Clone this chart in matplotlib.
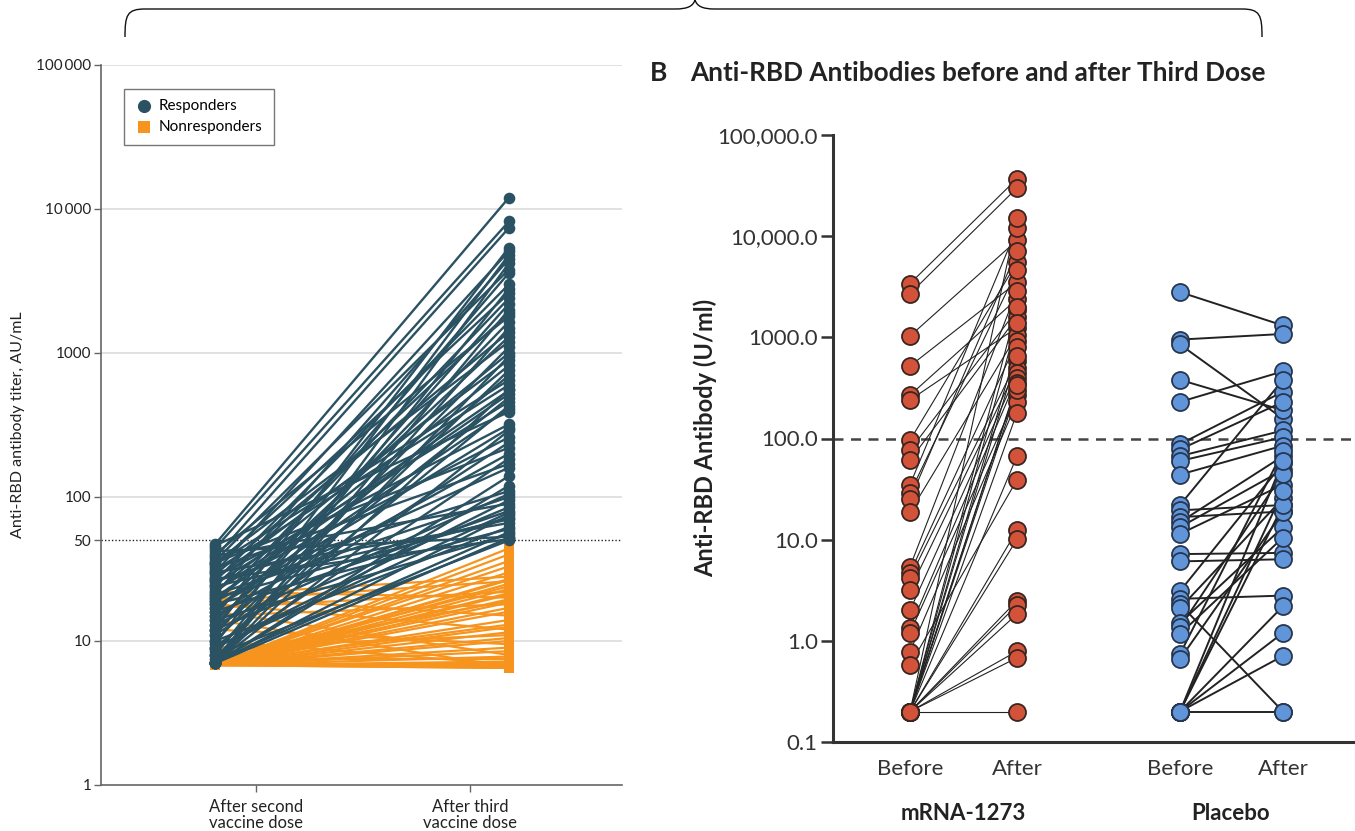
import matplotlib
matplotlib.use('Agg')
import matplotlib.pyplot as plt
from matplotlib.path import Path
from matplotlib.patches import PathPatch

# left panel: titers after 2nd and 3rd dose
resp_before = [
    47, 44, 38, 12, 30, 9.5, 21, 7, 36, 15,
    26, 8, 33, 18, 11, 7, 24, 40, 13, 7.5,
    29, 16, 35, 10, 22, 7, 27, 19, 8.5, 14,
    34, 31, 7, 20, 12, 25, 9, 17, 46, 28,
    7, 23, 11, 35, 15, 8, 32, 19, 7, 26,
    13, 21, 9, 39, 16, 7, 24, 30, 10, 18,
    7.2, 14, 42, 27, 8, 20, 12, 7, 17, 22,
    9, 7]
resp_after = [
    12000, 8200, 7400, 5400, 5100, 4800, 4500, 4200, 3800, 3600,
    3000, 2800, 2600, 2400, 2200, 2000, 1900, 1800, 1650, 1500,
    1400, 1300, 1200, 1100, 1000, 950, 900, 820, 760, 700,
    650, 600, 560, 520, 490, 460, 430, 410, 390, 320,
    290, 260, 240, 220, 200, 185, 170, 160, 120, 110,
    105, 100, 95, 90, 80, 75, 70, 66, 62, 60,
    57, 55, 53, 51, 50, 72, 85, 140, 300, 550,
    78, 52]
nonresp_before = [
    6.8, 6.8, 6.8, 7, 6.8, 21, 6.8, 19, 6.8, 7.2,
    6.8, 17, 6.8, 6.8, 22, 6.8, 8, 6.8, 15, 6.8,
    6.8, 20, 6.8, 7, 6.8, 18, 6.8, 9, 6.8, 6.8,
    12, 6.8, 6.8, 16, 6.8, 7.5, 6.8, 6.8, 10, 6.8,
    6.8, 14, 6.8, 6.8, 6.8]
nonresp_after = [
    44, 40, 36, 33, 30, 28, 27, 26, 25, 24,
    23, 22, 21.5, 21, 20, 19.5, 19, 18.5, 18, 17,
    16, 15, 14, 13, 12.5, 12, 11.5, 11, 10.5, 10,
    9.5, 9, 8.5, 8, 7.8, 7.5, 7.2, 7, 6.9, 6.8,
    6.7, 6.6, 6.5, 6.5, 26.5]
left_ticks = [1, 10, 50, 100, 1000, 10000, 100000]
left_ticklabels = ['1', '10', '50', '100', '1000', '10\u2009000', '100\u2009000']
dose_labels = ['After second\nvaccine dose', 'After third\nvaccine dose']

# right panel: anti-RBD before/after third dose
mrna_before = [3400, 2700, 1030, 520, 268, 240, 96, 77, 61, 35,
               29, 25, 18.7, 5.4, 4.7, 4.2, 3.2, 2.0, 1.34, 1.2,
               0.78, 0.58,
               0.2, 0.2, 0.2, 0.2, 0.2, 0.2, 0.2, 0.2, 0.2,
               0.2, 0.2, 0.2, 0.2, 0.2, 0.2, 0.2, 0.2, 0.2]
mrna_after = [37000, 30000, 9100, 3500, 2400, 1250, 5500, 1860, 1580, 12000,
              4600, 7100, 1060, 2900, 910, 580, 500, 440, 395, 270,
              230, 39,
              15000, 2000, 1400, 800, 650, 350, 300, 340, 180,
              67, 12.4, 10.1, 2.5, 2.25, 1.84, 0.79, 0.68, 0.2]
placebo_before = [2800, 950, 850, 380, 230, 88, 78, 67, 60, 44,
                  22, 19.5, 16.7, 14.9, 13.3, 11.4, 7.2, 6.1, 3.1, 2.6,
                  2.3, 2.1, 1.5, 1.36, 1.17, 0.74, 0.66,
                  0.2, 0.2, 0.2, 0.2, 0.2, 0.2, 0.2]
placebo_after = [1310, 1080, 157, 190, 461, 290, 230, 120, 103, 85,
                 380, 22, 19, 67, 49, 35, 7.4, 6.4, 57, 2.8,
                 0.2, 25.6, 13.3, 45, 10.5, 75, 18.8,
                 0.2, 0.71, 1.2, 2.2, 21.9, 30, 60]
right_ticks = [0.1, 1, 10, 100, 1000, 10000, 100000]
right_ticklabels = ['0.1', '1.0', '10.0', '100.0', '1000.0', '10,000.0', '100,000.0']
time_labels = ['Before', 'After', 'Before', 'After']
group_labels = ['mRNA-1273', 'Placebo']

teal = '#2b5262'
orange = '#f7941d'
red = '#d2533a'
blue = '#6195d9'

jama = ['Lato', 'DejaVu Sans']
nejm = ['Lato', 'DejaVu Sans']

W, H = 1355, 831
fig = plt.figure(figsize=(W / 100, H / 100), dpi=100)

# ---------------- left panel ----------------
ax = fig.add_axes([101 / W, 1 - 785 / H, 521 / W, 720 / H])
ax.set_yscale('log')
ax.set_ylim(1, 100000)
ax.set_xlim(0, 1)
x1, x2 = 0.219, 0.783

for b, a in zip(nonresp_before, nonresp_after):
    ax.plot([x1, x2], [b, a], color=orange, lw=1.6, zorder=2, solid_capstyle='butt')
ax.scatter([x1] * len(nonresp_before), nonresp_before, marker='s', s=50, color=orange,
           linewidths=0, zorder=3)
ax.scatter([x2] * len(nonresp_after), nonresp_after, marker='s', s=50, color=orange,
           linewidths=0, zorder=3)
for b, a in zip(resp_before, resp_after):
    ax.plot([x1, x2], [b, a], color=teal, lw=1.7, zorder=4)
ax.scatter([x1] * len(resp_before), resp_before, s=70, color=teal, linewidths=0, zorder=5)
ax.scatter([x2] * len(resp_after), resp_after, s=70, color=teal, linewidths=0, zorder=5)

for v in [10, 100, 1000, 10000, 100000]:
    ax.axhline(v, color='#dcdcdc', lw=1.2, zorder=0)
ax.axhline(50, color='#222222', lw=1.0, ls=(0, (1, 1.5)), zorder=1)

ax.yaxis.set_major_locator(matplotlib.ticker.FixedLocator(left_ticks))
ax.yaxis.set_minor_locator(matplotlib.ticker.NullLocator())
ax.set_yticklabels(left_ticklabels, family=jama, fontsize=11, color='#222222')
ax.set_xticks([0.2975, 0.708])
ax.set_xticklabels(dose_labels, family=jama, fontsize=12, color='#222222',
                   linespacing=1.0)
ax.tick_params(axis='both', length=5, width=1, color='#666666', pad=2)
ax.tick_params(axis='x', pad=5)
for s in ['top', 'right']:
    ax.spines[s].set_visible(False)
for s in ['left', 'bottom']:
    ax.spines[s].set_color('#666666')
    ax.spines[s].set_linewidth(1.2)
ax.set_ylabel('Anti-RBD antibody titer, AU/mL', family=jama, fontsize=11.5,
              color='#222222', labelpad=8)

h1 = ax.scatter([], [], s=90, color=teal, linewidths=0, label='Responders')
h2 = ax.scatter([], [], marker='s', s=70, color=orange, linewidths=0, label='Nonresponders')
leg = ax.legend(handles=[h1, h2], loc='upper left', bbox_to_anchor=(0.044, 0.967),
                prop={'family': jama, 'size': 11}, frameon=True, fancybox=False,
                edgecolor='#555555', borderpad=0.7, handletextpad=0.4,
                labelspacing=0.45, handlelength=1.2, borderaxespad=0)
leg.get_frame().set_linewidth(1.0)

# ---------------- right panel ----------------
bx = fig.add_axes([833 / W, 1 - 742 / H, 522 / W, 607 / H])
bx.set_yscale('log')
bx.set_ylim(0.1, 100000)
bx.set_xlim(0, 522)
xpos = [77, 184, 347, 450]

for b, a in zip(mrna_before, mrna_after):
    bx.plot([xpos[0], xpos[1]], [b, a], color='#222222', lw=0.8, zorder=2)
for b, a in zip(placebo_before, placebo_after):
    bx.plot([xpos[2], xpos[3]], [b, a], color='#222222', lw=1.4, zorder=2)
bx.scatter([xpos[0]] * len(mrna_before), mrna_before, s=150, color=red,
           edgecolors='#3b2520', linewidths=1.3, zorder=3)
bx.scatter([xpos[1]] * len(mrna_after), mrna_after, s=150, color=red,
           edgecolors='#3b2520', linewidths=1.3, zorder=3)
bx.scatter([xpos[2]] * len(placebo_before), placebo_before, s=150, color=blue,
           edgecolors='#27364e', linewidths=1.3, zorder=3)
bx.scatter([xpos[3]] * len(placebo_after), placebo_after, s=150, color=blue,
           edgecolors='#27364e', linewidths=1.3, zorder=3)

bx.axhline(100, color='#444444', lw=1.8, ls=(0, (4, 3)), zorder=1)

bx.yaxis.set_major_locator(matplotlib.ticker.FixedLocator(right_ticks))
bx.yaxis.set_minor_locator(matplotlib.ticker.NullLocator())
bx.set_yticklabels(right_ticklabels, family=nejm, fontsize=16, color='#333333')
bx.set_xticks(xpos)
bx.set_xticklabels(time_labels, family=nejm, fontsize=16, color='#333333')
bx.tick_params(axis='y', length=9, width=1.8, color='#333333', pad=2)
bx.tick_params(axis='x', length=0, pad=12)
for s in ['top', 'right']:
    bx.spines[s].set_visible(False)
for s in ['left', 'bottom']:
    bx.spines[s].set_color('#333333')
    bx.spines[s].set_linewidth(2.2)

fig.text(705 / W, 1 - 438 / H, 'Anti-RBD Antibody (U/ml)', rotation=90, ha='center',
         va='center', family=nejm, fontsize=17, fontweight='bold', color='#222222')
fig.text(963 / W, 1 - 813 / H, group_labels[0], ha='center', va='center', family=nejm,
         fontsize=16, fontweight='bold', color='#222222')
fig.text(1231 / W, 1 - 813 / H, group_labels[1], ha='center', va='center', family=nejm,
         fontsize=16, fontweight='bold', color='#222222')
fig.text(650 / W, 1 - 73 / H, 'B', ha='left', va='center', family=nejm, fontsize=19,
         fontweight='bold', color='#222222')
fig.text(690 / W, 1 - 73 / H, 'Anti-RBD Antibodies before and after Third Dose',
         ha='left', va='center', family=nejm, fontsize=18.8, fontweight='bold',
         color='#222222')

# brace across the top
pts = [(125, 37), (125, 15), (127, 9), (145, 9),
       (675, 9), (688, 9), (693, 6), (695, 0),
       (697, 6), (702, 9), (715, 9),
       (1242, 9), (1260, 9), (1262, 15), (1262, 37)]
codes = [Path.MOVETO, Path.CURVE4, Path.CURVE4, Path.CURVE4,
         Path.LINETO, Path.CURVE4, Path.CURVE4, Path.CURVE4,
         Path.CURVE4, Path.CURVE4, Path.CURVE4,
         Path.LINETO, Path.CURVE4, Path.CURVE4, Path.CURVE4]
brace = Path([(x / W, 1 - y / H) for x, y in pts], codes)
fig.patches.append(PathPatch(brace, transform=fig.transFigure, fill=False,
                             edgecolor='#111111', lw=1.0))

fig.savefig('out.png', dpi=100)
